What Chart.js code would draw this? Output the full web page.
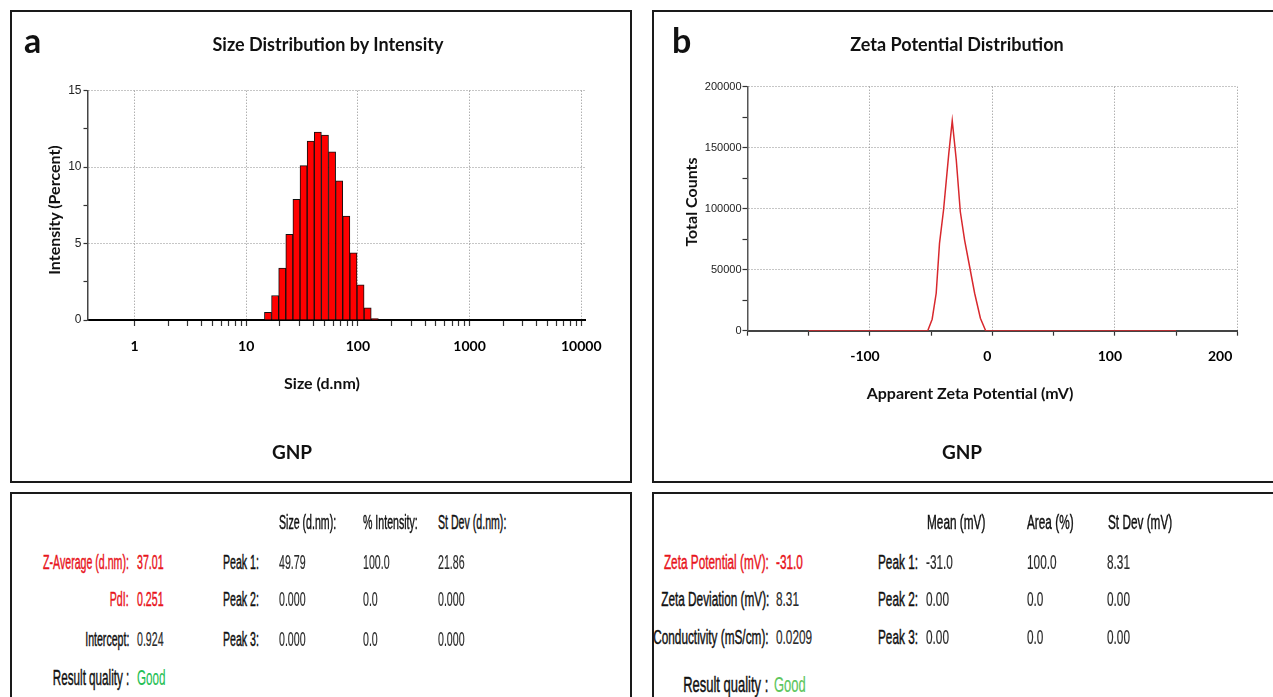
<!DOCTYPE html>
<html><head><meta charset="utf-8">
<script src="https://cdn.jsdelivr.net/npm/chart.js@4.4.1/dist/chart.umd.min.js"></script>
<style>
html,body{margin:0;padding:0;background:#fff;}
body{width:1273px;height:697px;position:relative;overflow:hidden;font-family:'Liberation Sans',Arial,sans-serif;}
.box{position:absolute;border:2px solid #1a1a1a;box-sizing:border-box;}
.t{position:absolute;white-space:nowrap;line-height:1;}
.h{font-family:Lato,'Open Sans',sans-serif;font-weight:700;color:#111;}
.c{transform:translateX(-50%);}
.rot{transform:translate(-50%,-50%) rotate(-90deg);}
.L{transform:translateY(-50%) scaleX(var(--s));transform-origin:left center;}
.R{transform:translateY(-50%) scaleX(var(--s));transform-origin:right center;}
.pa{--s:0.53;font-size:20px;color:#111;-webkit-text-stroke:0.45px currentColor;}
.pb{--s:0.59;font-size:20px;color:#111;-webkit-text-stroke:0.45px currentColor;}
.rq{font-size:22px;}
.red{color:#e8141c;}
.v{color:#2a2a2a;-webkit-text-stroke:0.2px currentColor;}
canvas{position:absolute;}
</style></head><body>

<div class="box" style="left:10px;top:10px;width:622px;height:473px"></div>
<div class="box" style="left:652px;top:10px;width:660px;height:473px"></div>
<div class="box" style="left:10px;top:492px;width:622px;height:240px"></div>
<div class="box" style="left:652px;top:492px;width:660px;height:240px"></div>

<canvas id="ca" width="618" height="468" style="left:12px;top:12px"></canvas>
<canvas id="cb" width="619" height="468" style="left:654px;top:12px"></canvas>

<div class="t h" style="left:24px;top:23px;font-size:34px">a</div>
<div class="t h" style="left:672px;top:23px;font-size:34px">b</div>
<div class="t h c" style="left:328px;top:34.5px;font-size:18px">Size Distribution by Intensity</div>
<div class="t h c" style="left:957px;top:34.5px;font-size:18px">Zeta Potential Distribution</div>
<div class="t h rot" style="left:53.7px;top:210px;font-size:16px">Intensity (Percent)</div>
<div class="t h rot" style="left:691px;top:202px;font-size:16px">Total Counts</div>
<div class="t h c" style="left:322px;top:374.6px;font-size:16px">Size (d.nm)</div>
<div class="t h c" style="left:970px;top:384.6px;font-size:16px">Apparent Zeta Potential (mV)</div>
<div class="t h c" style="left:292px;top:442px;font-size:19px">GNP</div>
<div class="t h c" style="left:962px;top:442px;font-size:19px">GNP</div>

<!-- table a -->
<div class="t pa L" style="left:279.3px;top:521.7px">Size (d.nm):</div>
<div class="t pa L" style="left:363px;top:521.7px">% Intensity:</div>
<div class="t pa L" style="left:437.7px;top:521.7px">St Dev (d.nm):</div>

<div class="t pa R red" style="right:1144px;top:561.7px">Z-Average (d.nm):</div>
<div class="t pa L red" style="left:136.7px;top:561.7px">37.01</div>
<div class="t pa L" style="left:222.7px;top:561.7px">Peak 1:</div>
<div class="t pa L v" style="left:279.3px;top:561.7px">49.79</div>
<div class="t pa L v" style="left:363px;top:561.7px">100.0</div>
<div class="t pa L v" style="left:437.7px;top:561.7px">21.86</div>

<div class="t pa R red" style="right:1144px;top:599px">PdI:</div>
<div class="t pa L red" style="left:136.7px;top:599px">0.251</div>
<div class="t pa L" style="left:222.7px;top:599px">Peak 2:</div>
<div class="t pa L v" style="left:279.3px;top:599px">0.000</div>
<div class="t pa L v" style="left:363px;top:599px">0.0</div>
<div class="t pa L v" style="left:437.7px;top:599px">0.000</div>

<div class="t pa R" style="right:1144px;top:639px">Intercept:</div>
<div class="t pa L v" style="left:136.7px;top:639px">0.924</div>
<div class="t pa L" style="left:222.7px;top:639px">Peak 3:</div>
<div class="t pa L v" style="left:279.3px;top:639px">0.000</div>
<div class="t pa L v" style="left:363px;top:639px">0.0</div>
<div class="t pa L v" style="left:437.7px;top:639px">0.000</div>

<div class="t pa rq R" style="right:1144px;top:678.3px">Result quality :</div>
<div class="t pa rq L" style="left:136.7px;top:678.3px;color:#1fbf55;-webkit-text-stroke:0.2px #1fbf55">Good</div>

<!-- table b -->
<div class="t pb L" style="left:926.7px;top:521.7px">Mean (mV)</div>
<div class="t pb L" style="left:1026.7px;top:521.7px">Area (%)</div>
<div class="t pb L" style="left:1108px;top:521.7px">St Dev (mV)</div>

<div class="t pb R red" style="right:504px;top:561.7px">Zeta Potential (mV):</div>
<div class="t pb L red" style="left:775.7px;top:561.7px">-31.0</div>
<div class="t pb L" style="left:877.7px;top:561.7px">Peak 1:</div>
<div class="t pb L v" style="left:926px;top:561.7px">-31.0</div>
<div class="t pb L v" style="left:1026.7px;top:561.7px">100.0</div>
<div class="t pb L v" style="left:1107.3px;top:561.7px">8.31</div>

<div class="t pb R" style="right:504px;top:599px">Zeta Deviation (mV):</div>
<div class="t pb L v" style="left:775.7px;top:599px">8.31</div>
<div class="t pb L" style="left:877.7px;top:599px">Peak 2:</div>
<div class="t pb L v" style="left:926px;top:599px">0.00</div>
<div class="t pb L v" style="left:1026.7px;top:599px">0.0</div>
<div class="t pb L v" style="left:1107.3px;top:599px">0.00</div>

<div class="t pb R" style="right:504px;top:636.7px">Conductivity (mS/cm):</div>
<div class="t pb L v" style="left:775.7px;top:636.7px">0.0209</div>
<div class="t pb L" style="left:877.7px;top:636.7px">Peak 3:</div>
<div class="t pb L v" style="left:926px;top:636.7px">0.00</div>
<div class="t pb L v" style="left:1026.7px;top:636.7px">0.0</div>
<div class="t pb L v" style="left:1107.3px;top:636.7px">0.00</div>

<div class="t pb rq R" style="right:504.7px;top:685px">Result quality :</div>
<div class="t pb rq L" style="left:774px;top:685px;color:#5cc65c;-webkit-text-stroke:0.2px #5cc65c">Good</div>

<script>
// ---- Panel a: size distribution by intensity ----
const sizeNm = [15.69, 18.17, 21.04, 24.36, 28.21, 32.67, 37.84, 43.82, 50.75, 58.77, 68.06, 78.82, 91.28, 105.7, 122.4, 141.8];
const intensityPct = [0.5, 1.6, 3.4, 5.6, 7.9, 10.1, 11.7, 12.3, 12.1, 11.0, 9.1, 6.8, 4.4, 2.3, 0.8, 0.1];
const sizeDecades = [1, 10, 100, 1000, 10000];
const sizeTickLabels = ['1', '10', '100', '1000', '10000'];
const minorMultipliers = [2, 3, 4, 5, 6, 7, 8, 9];
const intensityTicks = [0, 2.5, 5, 7.5, 10, 12.5, 15];
const intensityTickLabels = ['0', '5', '10', '15'];
const intensityGrid = [5, 10, 15];

// ---- Panel b: zeta potential distribution ----
const zetaMV = [-150, -52.8, -49.2, -45.9, -43.2, -39.9, -35.6, -32.8, -29.5, -26.2, -22.7, -19.2, -14.5, -9.8, -5.5, 150];
const totalCounts = [0, 0, 9400, 30700, 71600, 98900, 145400, 172100, 139900, 97500, 74300, 55700, 30700, 10200, 0, 0];
const zetaTicks = [-200, -150, -100, -50, 0, 50, 100, 150, 200];
const zetaTickLabels = ['-100', '0', '100', '200'];
const zetaGrid = [-100, 0, 100, 200];
const countTicks = [0, 25000, 50000, 75000, 100000, 125000, 150000, 175000, 200000];
const countTickLabels = ['0', '50000', '100000', '150000', '200000'];
const countGrid = [50000, 100000, 150000, 200000];

const sizeTicks = [];
sizeDecades.forEach((d, i) => {
  sizeTicks.push(d);
  if (i < sizeDecades.length - 1) minorMultipliers.forEach(m => sizeTicks.push(d * m));
});

const narrow = "'Liberation Sans Narrow','Arial Narrow','Liberation Sans',sans-serif";
const GRID = '#8c8c8c';
const NONE = 'rgba(0,0,0,0)';

new Chart(document.getElementById('ca'), {
  type: 'bar',
  data: {
    datasets: [{
      data: sizeNm.map((x, i) => ({ x: x, y: intensityPct[i] })),
      backgroundColor: '#ff0000',
      borderColor: '#111',
      borderWidth: 1,
      borderSkipped: 'start',
      barThickness: 'flex',
      categoryPercentage: 1,
      barPercentage: 1
    }]
  },
  options: {
    responsive: false, animation: false, devicePixelRatio: 1,
    layout: { padding: { left: 35.5, top: 78.7, right: 45, bottom: 120 } },
    plugins: { legend: { display: false }, tooltip: { enabled: false } },
    scales: {
      x: {
        type: 'logarithmic', min: 0.38, max: 10800, offset: false,
        afterBuildTicks: s => { s.ticks = sizeTicks.map(v => ({ value: v })); },
        afterFit: s => { s.height = 40; },
        ticks: {
          autoSkip: false, maxRotation: 0, minRotation: 0, padding: 12, color: '#000',
          font: { family: 'Lato', weight: 'bold', size: 14 },
          callback: v => sizeTickLabels.includes(String(v)) ? String(v) : ''
        },
        grid: {
          offset: false,
          color: c => (c.tick && sizeDecades.includes(c.tick.value)) ? GRID : NONE,
          lineWidth: 1,
          tickColor: '#333', tickLength: 6, tickWidth: 1.2, tickBorderDash: []
        },
        border: { display: true, color: '#000', width: 2, dash: [1, 2] }
      },
      y: {
        min: 0, max: 15,
        afterBuildTicks: s => { s.ticks = intensityTicks.map(v => ({ value: v })); },
        afterFit: s => { s.width = 40; },
        ticks: {
          autoSkip: false, padding: 2, color: '#222',
          font: { family: narrow, size: 12 },
          callback: v => intensityTickLabels.includes(String(v)) ? String(v) : ''
        },
        grid: {
          color: c => (c.tick && intensityGrid.includes(c.tick.value)) ? GRID : NONE,
          lineWidth: 1,
          tickColor: '#333', tickLength: 4, tickWidth: 1.2, tickBorderDash: []
        },
        border: { display: true, color: '#444', width: 1.5, dash: [1, 2] }
      }
    }
  }
});

new Chart(document.getElementById('cb'), {
  type: 'line',
  data: {
    datasets: [{
      data: zetaMV.map((x, i) => ({ x: x, y: totalCounts[i] })),
      borderColor: '#d8282d', borderWidth: 1.5, pointRadius: 0, fill: false, tension: 0
    }]
  },
  options: {
    responsive: false, animation: false, devicePixelRatio: 1,
    layout: { padding: { left: 43.5, top: 74.7, right: 35.7, bottom: 109.3 } },
    plugins: { legend: { display: false }, tooltip: { enabled: false } },
    scales: {
      x: {
        type: 'linear', min: -200, max: 200, offset: false,
        afterBuildTicks: s => { s.ticks = zetaTicks.map(v => ({ value: v })); },
        afterFit: s => { s.height = 40; },
        ticks: {
          autoSkip: false, maxRotation: 0, minRotation: 0, padding: 12, labelOffset: -5, align: 'inner',
          color: '#000', font: { family: 'Lato', weight: 'bold', size: 14 },
          callback: v => zetaTickLabels.includes(String(v)) ? String(v) : ''
        },
        grid: {
          color: c => (c.tick && zetaGrid.includes(c.tick.value)) ? GRID : NONE,
          lineWidth: 1,
          tickColor: '#333', tickLength: 5, tickWidth: 1.2, tickBorderDash: []
        },
        border: { display: true, color: '#444', width: 2, dash: [1, 2] }
      },
      y: {
        min: 0, max: 200000,
        afterBuildTicks: s => { s.ticks = countTicks.map(v => ({ value: v })); },
        afterFit: s => { s.width = 50; },
        ticks: {
          autoSkip: false, padding: 1, color: '#222',
          font: { family: narrow, size: 11 },
          callback: v => countTickLabels.includes(String(v)) ? String(v) : ''
        },
        grid: {
          color: c => (c.tick && countGrid.includes(c.tick.value)) ? GRID : NONE,
          lineWidth: 1,
          tickColor: '#333', tickLength: 5, tickWidth: 1.2, tickBorderDash: []
        },
        border: { display: true, color: '#555', width: 1.5, dash: [1, 2] }
      }
    }
  }
});
</script>
</body></html>
